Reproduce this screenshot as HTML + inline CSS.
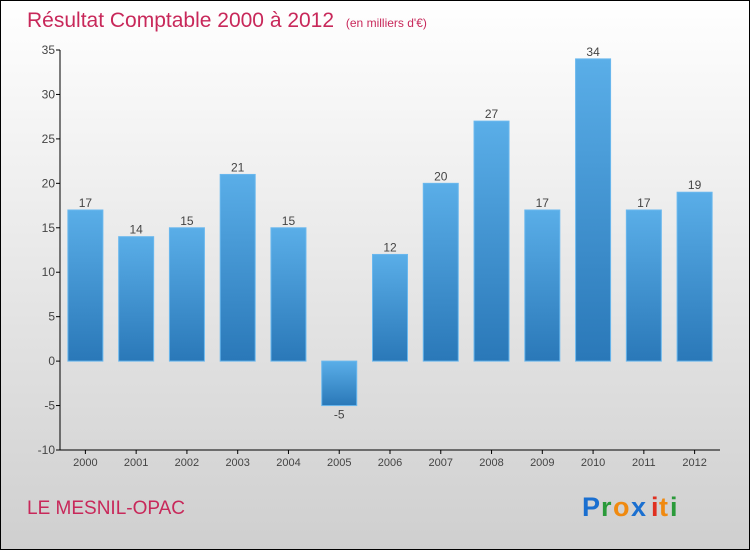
<!DOCTYPE html>
<html><head><meta charset="utf-8"><style>
body{margin:0}
svg{display:block;font-family:"Liberation Sans",sans-serif}
</style></head><body>
<svg id="c" width="750" height="550" viewBox="0 0 750 550" xmlns="http://www.w3.org/2000/svg">
<defs>
<linearGradient id="bg" x1="0" y1="0" x2="0" y2="1"><stop offset="0" stop-color="#ffffff"/><stop offset="1" stop-color="#cfcfcf"/></linearGradient>
<linearGradient id="bar" x1="0" y1="0" x2="0" y2="1"><stop offset="0" stop-color="#5aaee8"/><stop offset="1" stop-color="#2a78b8"/></linearGradient>
</defs>
<rect x="0.5" y="0.5" width="749" height="549" fill="url(#bg)" stroke="#000"/>
<text x="27" y="27" font-size="21" fill="#c8285a">Résultat Comptable 2000 à 2012 <tspan font-size="12" dx="6">(en milliers d'€)</tspan></text>
<g id="plot"></g>
<text x="27" y="514" font-size="19" fill="#c8285a">LE MESNIL-OPAC</text>
<g font-size="27" font-weight="bold">
<text x="582" y="516" fill="#1a6fd0">P</text><text x="601" y="516" fill="#2a9a3a">r</text><text x="613" y="516" fill="#f08a10">o</text><text x="631" y="516" fill="#1a6fd0">x</text><text x="651" y="516" fill="#e03020">i</text><text x="659" y="516" fill="#f08a10">t</text><text x="670" y="516" fill="#2a9a3a">i</text>
</g>
</svg>
<script>
const categories=["2000","2001","2002","2003","2004","2005","2006","2007","2008","2009","2010","2011","2012"];
const values=[17,14,15,21,15,-5,12,20,27,17,34,17,19];
const yTicks=[-10,-5,0,5,10,15,20,25,30,35];
const NS="http://www.w3.org/2000/svg";
const g=document.getElementById('plot');
const yMin=-10,yMax=35,pTop=50,pBot=450,pLeft=60,pRight=720;
const y=v=>pBot-(v-yMin)/(yMax-yMin)*(pBot-pTop);
const step=(pRight-pLeft)/categories.length;
const x=i=>pLeft+step*(i+0.5);
function mk(t,a){const e=document.createElementNS(NS,t);for(const k in a)e.setAttribute(k,a[k]);g.appendChild(e);return e;}
let ax=mk('line',{x1:pLeft,y1:pTop,x2:pLeft,y2:pBot,stroke:'#000'});


ax=mk('line',{x1:pLeft,y1:pBot,x2:pRight,y2:pBot,stroke:'#000'});


yTicks.forEach(t=>{
 const l=mk('line',{x1:pLeft-4,y1:y(t),x2:pLeft,y2:y(t),stroke:'#000'});
 
 
 const tx=mk('text',{x:pLeft-5,y:y(t)+4,'font-size':12,fill:'#444','text-anchor':'end'});
 tx.textContent=t;
 
 
});
categories.forEach((c,i)=>{
 const v=values[i],cx=x(i),w=35;
 const r=mk('rect',{x:cx-w/2,y:Math.min(y(v),y(0)),width:w,height:Math.abs(y(v)-y(0)),fill:'url(#bar)',stroke:'#6ab8ee','stroke-width':1});
 
 
 const vl=mk('text',{x:cx,y:v>=0?y(v)-3:y(v)+13,'font-size':12,fill:'#444','text-anchor':'middle'});
 vl.textContent=v;
 
 
 const tk=mk('line',{x1:cx,y1:pBot,x2:cx,y2:pBot+4,stroke:'#000'});
 
 
 const xl=mk('text',{x:cx,y:pBot+16,'font-size':11,fill:'#444','text-anchor':'middle'});
 xl.textContent=c;
 
 
});
</script>
</body></html>
